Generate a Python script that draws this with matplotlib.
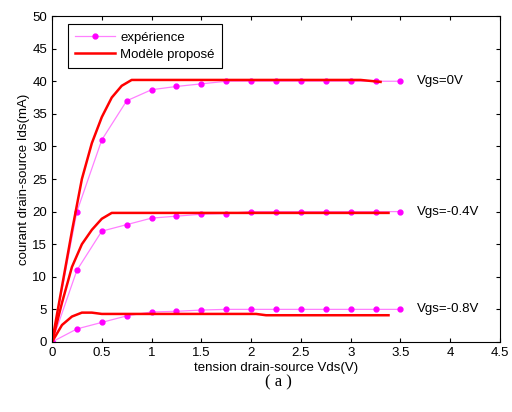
import matplotlib.pyplot as plt
import numpy as np

plt.rcParams['font.family'] = ['Liberation Sans', 'DejaVu Sans']

# mesures (expérience)
vds_exp = [0, 0.25, 0.5, 0.75, 1.0, 1.25, 1.5, 1.75, 2.0, 2.25, 2.5, 2.75, 3.0, 3.25, 3.5]
ids_exp_0 = [0, 20, 31, 37, 38.7, 39.2, 39.6, 40, 40, 40, 40, 40, 40, 40, 40]
ids_exp_04 = [0, 11, 17, 18, 19, 19.3, 19.6, 19.7, 20, 20, 20, 20, 20, 20, 20]
ids_exp_08 = [0, 2, 3, 4, 4.6, 4.7, 4.9, 5, 5, 5, 5, 5, 5, 5, 5]

# modèle proposé
vds_mod_0 = [0, 0.1, 0.2, 0.3, 0.4, 0.5, 0.6, 0.7, 0.8, 1.0, 2.0, 3.1, 3.3]
ids_mod_0 = [0, 8.5, 17, 25, 30.5, 34.5, 37.5, 39.3, 40.2, 40.2, 40.2, 40.2, 39.9]
vds_mod_04 = [0, 0.1, 0.2, 0.3, 0.4, 0.5, 0.6, 1.0, 2.0, 3.0, 3.38]
ids_mod_04 = [0, 6, 11.5, 15, 17.2, 18.9, 19.8, 19.8, 19.8, 19.8, 19.8]
vds_mod_08 = [0, 0.1, 0.2, 0.3, 0.4, 0.5, 1.0, 2.05, 2.15, 3.0, 3.38]
ids_mod_08 = [0, 2.6, 3.9, 4.5, 4.5, 4.3, 4.3, 4.3, 4.1, 4.1, 4.1]

labels_vgs = ['Vgs=0V', 'Vgs=-0.4V', 'Vgs=-0.8V']
pos_vgs = [40, 20, 5]

fig = plt.figure(figsize=(5.12, 4.12), dpi=100)
ax = fig.add_axes([0.1016, 0.17, 0.875, 0.791])

exp_kw = dict(color='#ff80ff', lw=0.9, marker='o', ms=3.5, mfc='#ff00ff', mec='#ff00ff')
mod_kw = dict(color='#ff0000', lw=1.8)

ax.plot(vds_exp, ids_exp_0, label='expérience', **exp_kw)
ax.plot(vds_mod_0, ids_mod_0, label='Modèle proposé', **mod_kw)
ax.plot(vds_exp, ids_exp_04, **exp_kw)
ax.plot(vds_mod_04, ids_mod_04, **mod_kw)
ax.plot(vds_exp, ids_exp_08, **exp_kw)
ax.plot(vds_mod_08, ids_mod_08, **mod_kw)

for lab, y in zip(labels_vgs, pos_vgs):
    ax.text(3.67, y, lab, fontsize=9.5, va='center', ha='left')

ax.set_xlim(0, 4.5)
ax.set_ylim(0, 50)
ax.set_xticks(np.arange(0, 4.6, 0.5))
ax.set_xticklabels(['0', '0.5', '1', '1.5', '2', '2.5', '3', '3.5', '4', '4.5'])
ax.set_yticks(np.arange(0, 51, 5))
ax.tick_params(direction='in', top=True, right=True, labelsize=9.5, length=3)
ax.set_xlabel('tension drain-source Vds(V)', fontsize=9.5, labelpad=2)
ax.set_ylabel('courant drain-source Ids(mA)', fontsize=9.5, labelpad=2)

leg = ax.legend(loc='upper left', bbox_to_anchor=(0.036, 0.975), borderaxespad=0,
                fontsize=9.5, fancybox=False, edgecolor='black', framealpha=1,
                handlelength=3.0, handletextpad=0.4, borderpad=0.55, labelspacing=0.35)
leg.get_frame().set_linewidth(0.8)

fig.text(0.543, 0.073, '( a )', fontsize=12, ha='center', va='center',
         family=['Liberation Serif', 'DejaVu Serif'])

plt.savefig('out.png', dpi=100)
